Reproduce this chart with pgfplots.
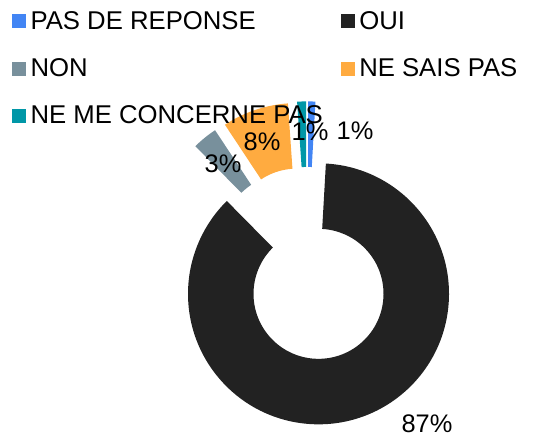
\documentclass[border=0pt]{standalone}
\usepackage{fontspec}
\setmainfont{Liberation Sans}
\usepackage{pgfplots}
\pgfplotsset{compat=1.18}
\usepackage{pgfplotstable}

% share of each answer, clockwise from 12 o'clock
\pgfplotstableread{
value
0.9
86.7
3.1
8.2
1.1
}\donutdata

\definecolor{slice0}{HTML}{4285F4}
\definecolor{slice1}{HTML}{222222}
\definecolor{slice2}{HTML}{78909C}
\definecolor{slice3}{HTML}{FFAB40}
\definecolor{slice4}{HTML}{0097A7}

% geometry (bp): centre, outer / inner radius, explosion
\def\cxo{307.2}
\def\cyo{173.1}
\def\Ro{130.5}
\def\Ri{65}
\def\expl{32}

\gdef\cum{0}
\foreach \i in {0,...,4}{%
  \pgfplotstablegetelem{\i}{value}\of\donutdata
  \let\val\pgfplotsretval
  \pgfmathsetmacro\sa{90-3.6*\cum}
  \pgfmathsetmacro\ea{90-3.6*(\cum+\val)}
  \pgfmathsetmacro\ma{(\sa+\ea)/2}
  \pgfmathsetmacro\cx{\cxo+\expl*cos(\ma)}
  \pgfmathsetmacro\cy{\cyo+\expl*sin(\ma)}
  \expandafter\xdef\csname sa\i\endcsname{\sa}
  \expandafter\xdef\csname ea\i\endcsname{\ea}
  \expandafter\xdef\csname cx\i\endcsname{\cx}
  \expandafter\xdef\csname cy\i\endcsname{\cy}
  \pgfmathsetmacro\newcum{\cum+\val}
  \xdef\cum{\newcum}
}

\begin{document}
\begin{tikzpicture}
\useasboundingbox (0,0) rectangle (540bp,437bp);
\begin{axis}[
    at={(0,0)}, anchor=origin,
    x=1bp, y=1bp,
    xmin=0, xmax=540, ymin=0, ymax=437,
    hide axis,
    clip=false,
    legend columns=2,
    legend style={draw=none, fill=none, at={(axis cs:12,428)}, anchor=north west,
        font=\fontsize{25.8}{28}\selectfont, inner sep=0pt,
        row sep=24bp,
        /tikz/every odd column/.append style={column sep=3bp},
        /tikz/every even column/.append style={column sep=16bp}},
    legend cell align=left,
    legend image code/.code={\fill[#1] (0bp,-6.5bp) rectangle (13bp,6.5bp);},
]
\pgfplotsinvokeforeach{0,...,4}{
  \fill[slice#1] (axis cs:\csname cx#1\endcsname,\csname cy#1\endcsname)
      ++(\csname sa#1\endcsname:\Ro bp)
      arc[start angle=\csname sa#1\endcsname, end angle=\csname ea#1\endcsname, radius=\Ro bp]
      -- ++(\csname ea#1\endcsname+180:\Ro bp-\Ri bp)
      arc[start angle=\csname ea#1\endcsname, end angle=\csname sa#1\endcsname, radius=\Ri bp]
      -- cycle;
}
\addlegendimage{slice0}\addlegendentry{PAS DE REPONSE}
\addlegendimage{slice1}\addlegendentry{OUI}
\addlegendimage{slice2}\addlegendentry{NON}
\addlegendimage{slice3}\addlegendentry{NE SAIS PAS}
\addlegendimage{slice4}\addlegendentry{NE ME CONCERNE PAS}

\begin{scope}[every node/.style={font=\fontsize{25.5}{28}\selectfont, inner sep=0pt}]
\node at (axis cs:355,306) {1\%};
\node at (axis cs:310,305) {1\%};
\node at (axis cs:262,295) {8\%};
\node at (axis cs:223,273) {3\%};
\node at (axis cs:427,13) {87\%};
\end{scope}
\end{axis}
\end{tikzpicture}
\end{document}
